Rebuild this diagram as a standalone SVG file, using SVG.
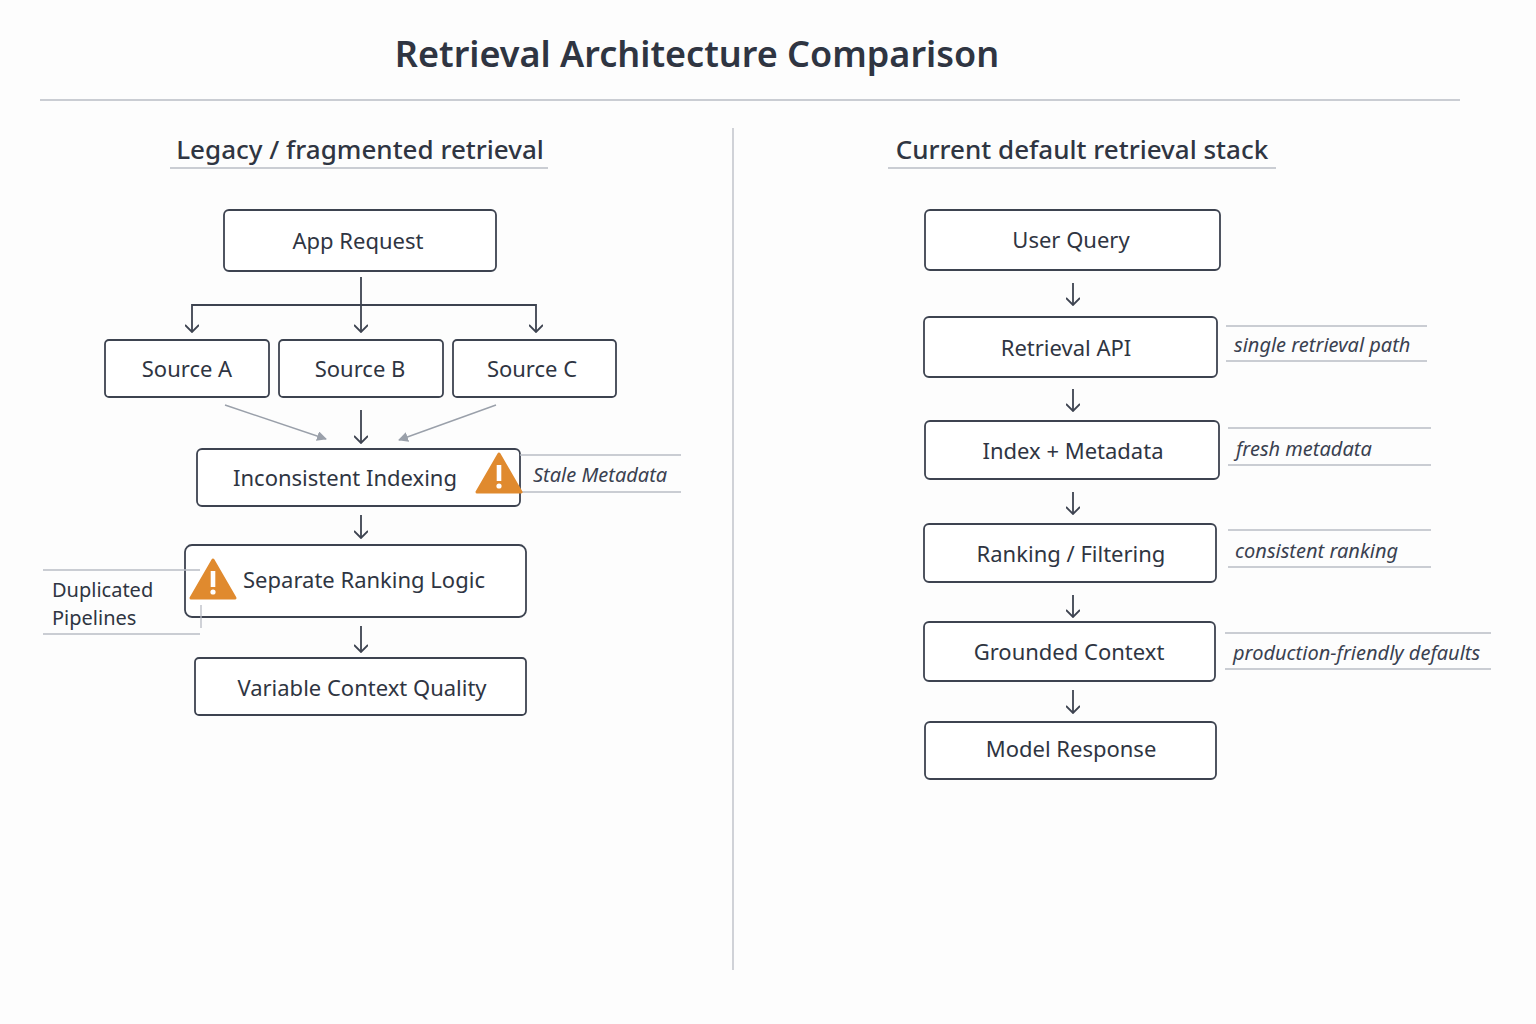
<svg xmlns="http://www.w3.org/2000/svg" width="1536" height="1024" viewBox="0 0 1536 1024">
<style>
text{font-family:"Noto Sans","Open Sans",sans-serif;fill:#2f3542}
.box{fill:#fff;stroke:#3d4350;stroke-width:1.8}
.t{font-size:22px;text-anchor:middle}
.ann{font-size:20px;font-style:italic;fill:#3a4150}
.al{stroke:#b8bcc4;stroke-width:1.3;fill:none}
.c{stroke:#3d4350;stroke-width:1.8;fill:none}
.g{stroke:#9aa0aa;stroke-width:1.4;fill:none}
</style>
<defs>
<marker id="v" viewBox="0 0 12 14" refX="11" refY="7" markerWidth="12" markerHeight="14" markerUnits="userSpaceOnUse" orient="auto">
<path d="M4,0 L11,7 L4,14" fill="none" stroke="#3d4350" stroke-width="1.8"/></marker>
<marker id="gv" viewBox="0 0 10 10" refX="9" refY="5" markerWidth="10" markerHeight="10" markerUnits="userSpaceOnUse" orient="auto">
<path d="M0,0 L10,5 L0,10 z" fill="#9aa0aa"/></marker>
<g id="warn"><path d="M0,-20 L22,18 L-22,18 Z" fill="#e08a2e" stroke="#e08a2e" stroke-width="3" stroke-linejoin="round"/><rect x="-2.3" y="-9" width="4.6" height="16" fill="#fff"/><circle cx="0" cy="12" r="2.6" fill="#fff"/></g>
</defs>
<rect width="1536" height="1024" fill="#fdfdfd"/>
<text x="697" y="67" font-size="36" text-anchor="middle" font-weight="600">Retrieval Architecture Comparison</text>
<line x1="40" y1="100" x2="1460" y2="100" class="al"/>
<line x1="733" y1="128" x2="733" y2="970" class="al"/>
<text x="360" y="159" font-size="26" text-anchor="middle" font-weight="500">Legacy / fragmented retrieval</text>
<line x1="170" y1="168" x2="548" y2="168" class="al"/>
<text x="1082" y="159" font-size="26" text-anchor="middle" font-weight="500">Current default retrieval stack</text>
<line x1="888" y1="168" x2="1276" y2="168" class="al"/>

<g id="connectors">
<path class="c" d="M361,277 V332" marker-end="url(#v)"/>
<path class="c" d="M361,305 H192 V332" marker-end="url(#v)"/>
<path class="c" d="M361,305 H536 V332" marker-end="url(#v)"/>
<path class="c" d="M361,410 V443" marker-end="url(#v)"/>
<path class="g" d="M225,405 L326,439" marker-end="url(#gv)"/>
<path class="g" d="M496,405 L399,440" marker-end="url(#gv)"/>
<path class="c" d="M361,515 V538" marker-end="url(#v)"/>
<path class="c" d="M361,626 V652" marker-end="url(#v)"/>
<path class="c" d="M1073,283 V305" marker-end="url(#v)"/>
<path class="c" d="M1073,389 V411" marker-end="url(#v)"/>
<path class="c" d="M1073,492 V514" marker-end="url(#v)"/>
<path class="c" d="M1073,595 V617" marker-end="url(#v)"/>
<path class="c" d="M1073,690 V713" marker-end="url(#v)"/>
</g>

<g id="app"><rect class="box" x="224" y="210" width="272" height="61" rx="5"/><text class="t" x="358" y="249">App Request</text></g>
<g id="srcA"><rect class="box" x="105" y="340" width="164" height="57" rx="4"/><text class="t" x="187" y="377">Source A</text></g>
<g id="srcB"><rect class="box" x="279" y="340" width="164" height="57" rx="4"/><text class="t" x="360" y="377">Source B</text></g>
<g id="srcC"><rect class="box" x="453" y="340" width="163" height="57" rx="4"/><text class="t" x="532" y="377">Source C</text></g>
<g id="indexing"><rect class="box" x="197" y="449" width="323" height="57" rx="5"/><text class="t" x="345" y="486">Inconsistent Indexing</text>
<line x1="520" y1="455" x2="681" y2="455" class="al"/><line x1="520" y1="492" x2="681" y2="492" class="al"/>
<use href="#warn" x="499" y="474"/><text class="ann" x="533" y="482">Stale Metadata</text></g>
<g id="ranking"><rect class="box" x="185" y="545" width="341" height="72" rx="7"/><text class="t" x="364" y="588">Separate Ranking Logic</text>
<line x1="43" y1="570" x2="200" y2="570" class="al"/><line x1="43" y1="634" x2="200" y2="634" class="al"/><line x1="201" y1="605" x2="201" y2="628" class="al"/>
<use href="#warn" x="213" y="580"/>
<text x="52" y="597" font-size="20">Duplicated</text><text x="52" y="625" font-size="20">Pipelines</text></g>
<g id="variable"><rect class="box" x="195" y="658" width="331" height="57" rx="4"/><text class="t" x="362" y="696">Variable Context Quality</text></g>

<g id="user"><rect class="box" x="925" y="210" width="295" height="60" rx="5"/><text class="t" x="1071" y="248">User Query</text></g>
<g id="api"><rect class="box" x="924" y="317" width="293" height="60" rx="5"/><text class="t" x="1066" y="356">Retrieval API</text>
<line x1="1226" y1="326" x2="1427" y2="326" class="al"/><line x1="1226" y1="361" x2="1427" y2="361" class="al"/><text class="ann" x="1234" y="352">single retrieval path</text></g>
<g id="index"><rect class="box" x="925" y="421" width="294" height="58" rx="5"/><text class="t" x="1073" y="459">Index + Metadata</text>
<line x1="1228" y1="428" x2="1431" y2="428" class="al"/><line x1="1228" y1="465" x2="1431" y2="465" class="al"/><text class="ann" x="1236" y="456">fresh metadata</text></g>
<g id="rank"><rect class="box" x="924" y="524" width="292" height="58" rx="5"/><text class="t" x="1071" y="562">Ranking / Filtering</text>
<line x1="1228" y1="530" x2="1431" y2="530" class="al"/><line x1="1228" y1="567" x2="1431" y2="567" class="al"/><text class="ann" x="1235" y="558">consistent ranking</text></g>
<g id="grounded"><rect class="box" x="924" y="622" width="291" height="59" rx="5"/><text class="t" x="1069" y="660">Grounded Context</text>
<line x1="1225" y1="633" x2="1491" y2="633" class="al"/><line x1="1225" y1="669" x2="1491" y2="669" class="al"/><text class="ann" x="1233" y="660">production-friendly defaults</text></g>
<g id="model"><rect class="box" x="925" y="722" width="291" height="57" rx="5"/><text class="t" x="1071" y="757">Model Response</text></g>
</svg>
